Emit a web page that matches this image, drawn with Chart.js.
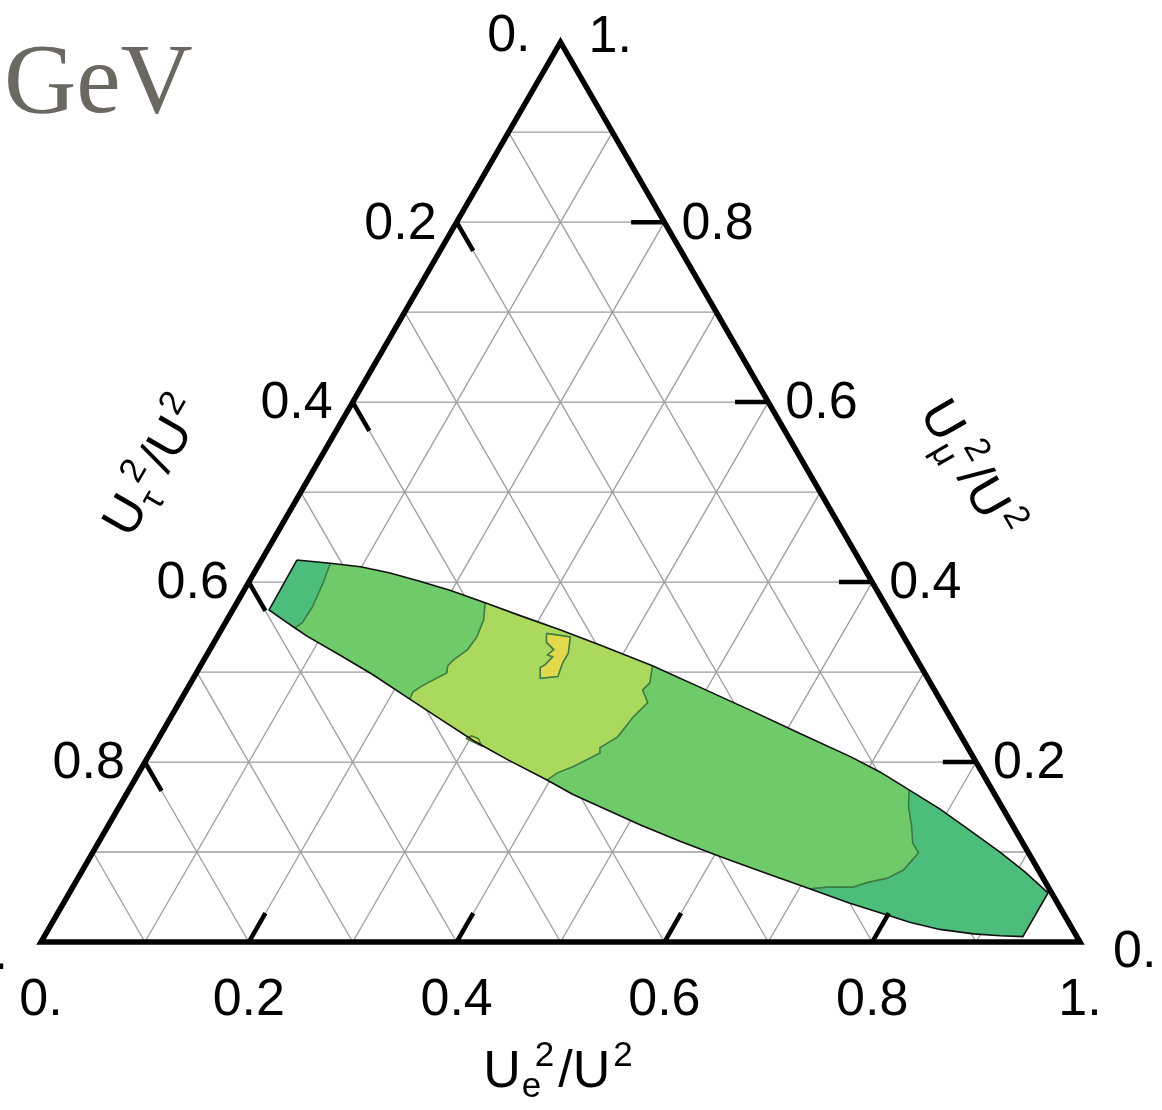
<!DOCTYPE html>
<html>
<head>
<meta charset="utf-8">
<script src="https://cdn.jsdelivr.net/npm/chart.js@4.4.0/dist/chart.umd.min.js"></script>
<style>
  html, body { margin: 0; padding: 0; background: #fff; }
</style>
</head>
<body>
<canvas id="chart" width="1162" height="1110"></canvas>
<script>
// every point is [Ue^2/U^2, Umu^2/U^2]; Utau^2/U^2 is what is left to 1
const gridSteps = [0.1, 0.2, 0.3, 0.4, 0.5, 0.6, 0.7, 0.8, 0.9];
const tickValues = [0.2, 0.4, 0.6, 0.8];
const axisValues = [0, 0.2, 0.4, 0.6, 0.8, 1];
const axisText = ["0.", "0.2", "0.4", "0.6", "0.8", "1."];

// allowed region, upper edge left -> right
const upperEdge = [
  [0.034, 0.4245], [0.068, 0.421], [0.099, 0.417], [0.131, 0.410], [0.164, 0.401],
  [0.198, 0.391], [0.239, 0.377], [0.279, 0.363], [0.326, 0.347], [0.373, 0.330],
  [0.435, 0.307], [0.493, 0.283], [0.553, 0.258], [0.614, 0.232], [0.676, 0.206],
  [0.713, 0.189], [0.751, 0.169], [0.791, 0.148], [0.832, 0.124], [0.873, 0.100],
  [0.908, 0.078], [0.942, 0.0545]
];
// lower edge right -> left
const lowerEdge = [
  [0.942, 0.006], [0.920, 0.007], [0.893, 0.009], [0.858, 0.014], [0.825, 0.022],
  [0.803, 0.029], [0.757, 0.043], [0.711, 0.059], [0.658, 0.077], [0.609, 0.094],
  [0.559, 0.112], [0.512, 0.130], [0.471, 0.147], [0.430, 0.164], [0.397, 0.180],
  [0.347, 0.203], [0.304, 0.224], [0.260, 0.248], [0.220, 0.270], [0.171, 0.297],
  [0.128, 0.319], [0.086, 0.340], [0.070, 0.349], [0.054, 0.358], [0.035, 0.369]
];

// contour lines, top -> bottom
const contourWest = [[0.068, 0.421], [0.072, 0.399], [0.075, 0.372], [0.074, 0.355], [0.070, 0.349]];
const contourMidLeft = [
  [0.239, 0.377], [0.247, 0.358], [0.250, 0.339], [0.248, 0.325], [0.240, 0.313], [0.238, 0.307],
  [0.241, 0.299], [0.234, 0.293], [0.228, 0.288], [0.223, 0.283], [0.219, 0.278], [0.220, 0.270]
];
const contourMidRight = [
  [0.435, 0.307], [0.442, 0.288], [0.439, 0.280], [0.451, 0.266], [0.448, 0.258], [0.445, 0.250],
  [0.441, 0.228], [0.430, 0.216], [0.433, 0.210], [0.415, 0.195], [0.403, 0.188], [0.397, 0.180]
];
const contourEast = [
  [0.751, 0.169], [0.760, 0.150], [0.774, 0.128], [0.784, 0.110], [0.795, 0.099], [0.793, 0.091],
  [0.790, 0.080], [0.779, 0.071], [0.762, 0.066], [0.751, 0.061], [0.726, 0.061], [0.711, 0.059]
];
const peakBlob = [
  [0.315, 0.343], [0.340, 0.339], [0.347, 0.321], [0.347, 0.310], [0.350, 0.295], [0.334, 0.293],
  [0.328, 0.305], [0.331, 0.308], [0.334, 0.317], [0.328, 0.319], [0.331, 0.325], [0.320, 0.333]
];
const smallBlob = [[0.296, 0.226], [0.300, 0.229], [0.308, 0.226], [0.315, 0.218]];

const SQ = Math.sqrt(3) / 2;
const toXY = ([e, m]) => ({ x: e + m / 2, y: m * SQ });
const FONT = '"Liberation Sans", Arial, Helvetica, sans-serif';

const colors = {
  edge: "#4dbd7b",
  mid: "#6fcb69",
  light: "#aad95e",
  peak: "#e2da4c",
  contour: "#3e7b42"
};

function lineSet(points, opts) {
  return Object.assign({
    data: points.map(toXY),
    pointRadius: 0,
    pointHoverRadius: 0,
    borderWidth: 1,
    borderColor: "#000",
    fill: false,
    tension: 0
  }, opts);
}

function patch(points, color, order) {
  return lineSet(points.concat([points[0]]), {
    fill: "shape", backgroundColor: color, borderColor: "rgba(0,0,0,0)", borderWidth: 0, order: order
  });
}

const datasets = [];

// thin grid
gridSteps.forEach(v => {
  [[[v, 0], [v, 1 - v]], [[0, v], [1 - v, v]], [[1 - v, 0], [0, 1 - v]]].forEach(seg => {
    datasets.push(lineSet(seg, { borderColor: "#9c9c9c", borderWidth: 1.3, order: 60 }));
  });
});

// colored region
const westPatch = [...upperEdge.slice(0, 2), ...contourWest.slice(1), ...lowerEdge.slice(23)];
const midPatch = [...upperEdge.slice(6, 11), ...contourMidRight.slice(1), ...lowerEdge.slice(15, 18),
  ...contourMidLeft.slice().reverse()];
const eastPatch = [...upperEdge.slice(16), ...lowerEdge.slice(0, 7), ...contourEast.slice().reverse()];
const outline = [...upperEdge, ...lowerEdge];

datasets.push(patch(outline, colors.mid, 50));
datasets.push(patch(westPatch, colors.edge, 45));
datasets.push(patch(eastPatch, colors.edge, 45));
datasets.push(patch(midPatch, colors.light, 45));
datasets.push(patch(peakBlob, colors.peak, 44));
datasets.push(patch(smallBlob, colors.peak, 44));

[contourWest, contourMidLeft, contourMidRight, contourEast].forEach(c => {
  datasets.push(lineSet(c, { borderColor: colors.contour, borderWidth: 1.6, order: 40 }));
});
[peakBlob, smallBlob].forEach(c => {
  datasets.push(lineSet(c.concat([c[0]]), { borderColor: colors.contour, borderWidth: 1.6, order: 40 }));
});
datasets.push(lineSet(outline.concat([outline[0]]), { borderColor: "#111", borderWidth: 1.6, order: 35 }));

// triangle frame and ticks
datasets.push(lineSet([[0, 0], [1, 0], [0, 1], [0, 0], [1, 0]], {
  borderWidth: 5.5, borderJoinStyle: "miter", order: 10
}));
const tickLen = 0.032;
tickValues.forEach(v => {
  datasets.push(lineSet([[v, 0], [v, tickLen]], { borderWidth: 4.5, order: 5 }));
  datasets.push(lineSet([[1 - v, v], [1 - v - tickLen, v]], { borderWidth: 4.5, order: 5 }));
  datasets.push(lineSet([[0, 1 - v], [tickLen, 1 - v - tickLen]], { borderWidth: 4.5, order: 5 }));
});

function drawTitle(ctx, cx, cy, angle, sub) {
  const big = "52px " + FONT, small = "35px " + FONT;
  ctx.save();
  ctx.translate(cx, cy);
  ctx.rotate(angle);
  ctx.font = big;
  const wU = ctx.measureText("U").width;
  const wSl = ctx.measureText("/").width;
  ctx.font = small;
  const w2 = ctx.measureText("2").width;
  const supX = wU + 14;
  const slX = supX + w2 + 4;
  const u2X = slX + wSl;
  const sup2X = u2X + wU + 3;
  const total = sup2X + w2;
  const x0 = -total / 2, base = 18;
  ctx.fillStyle = "#000";
  ctx.textAlign = "left";
  ctx.textBaseline = "alphabetic";
  ctx.font = big;
  ctx.fillText("U", x0, base);
  ctx.fillText("/", x0 + slX, base);
  ctx.fillText("U", x0 + u2X, base);
  ctx.font = small;
  ctx.fillText(sub, x0 + wU + 1, base + 10);
  ctx.fillText("2", x0 + supX, base - 21);
  ctx.fillText("2", x0 + sup2X, base - 21);
  ctx.restore();
}

const textPlugin = {
  id: "ternaryText",
  afterDraw(chart) {
    const { ctx, scales: { x, y } } = chart;
    const pix = p => { const q = toXY(p); return [x.getPixelForValue(q.x), y.getPixelForValue(q.y)]; };
    ctx.save();
    ctx.fillStyle = "#000";
    ctx.font = "52px " + FONT;
    ctx.textBaseline = "middle";
    axisValues.forEach((v, i) => {
      // bottom: Ue
      const [bx, by] = pix([v, 0]);
      ctx.textAlign = "center";
      ctx.fillText(axisText[i], bx, by + 59);
      // right: Umu
      const [rx, ry] = pix([1 - v, v]);
      ctx.textAlign = "left";
      if (v === 0) ctx.fillText(axisText[i], rx + 33, ry + 11);
      else if (v === 1) ctx.fillText(axisText[i], rx + 28, ry - 5);
      else ctx.fillText(axisText[i], rx + 17, ry + 2);
      // left: Utau
      const [lx, ly] = pix([0, 1 - v]);
      ctx.textAlign = "right";
      if (v === 0) ctx.fillText(axisText[i], lx - 30, ly - 6);
      else if (v === 1) ctx.fillText(axisText[i], lx - 33, ly + 13);
      else ctx.fillText(axisText[i], lx - 20, ly + 2);
    });
    ctx.restore();

    drawTitle(ctx, 558, 1069, 0, "e");
    drawTitle(ctx, 152, 466, -Math.PI / 3, "\u03c4");
    drawTitle(ctx, 972, 468, Math.PI / 3, "\u03bc");

    ctx.save();
    ctx.fillStyle = "#6b6862";
    ctx.font = '100px "Liberation Serif", "Times New Roman", serif';
    ctx.textAlign = "left";
    ctx.textBaseline = "alphabetic";
    ctx.fillText("GeV", 4, 112);
    ctx.restore();
  }
};

new Chart(document.getElementById("chart").getContext("2d"), {
  type: "line",
  data: { datasets: datasets },
  options: {
    responsive: false,
    animation: false,
    events: [],
    layout: { padding: 0 },
    plugins: { legend: { display: false }, tooltip: { enabled: false } },
    scales: {
      x: { type: "linear", min: -0.03946, max: 1.07892, display: false },
      y: { type: "linear", min: -0.16169, max: 0.90664, display: false }
    }
  },
  plugins: [textPlugin]
});
</script>
</body>
</html>
